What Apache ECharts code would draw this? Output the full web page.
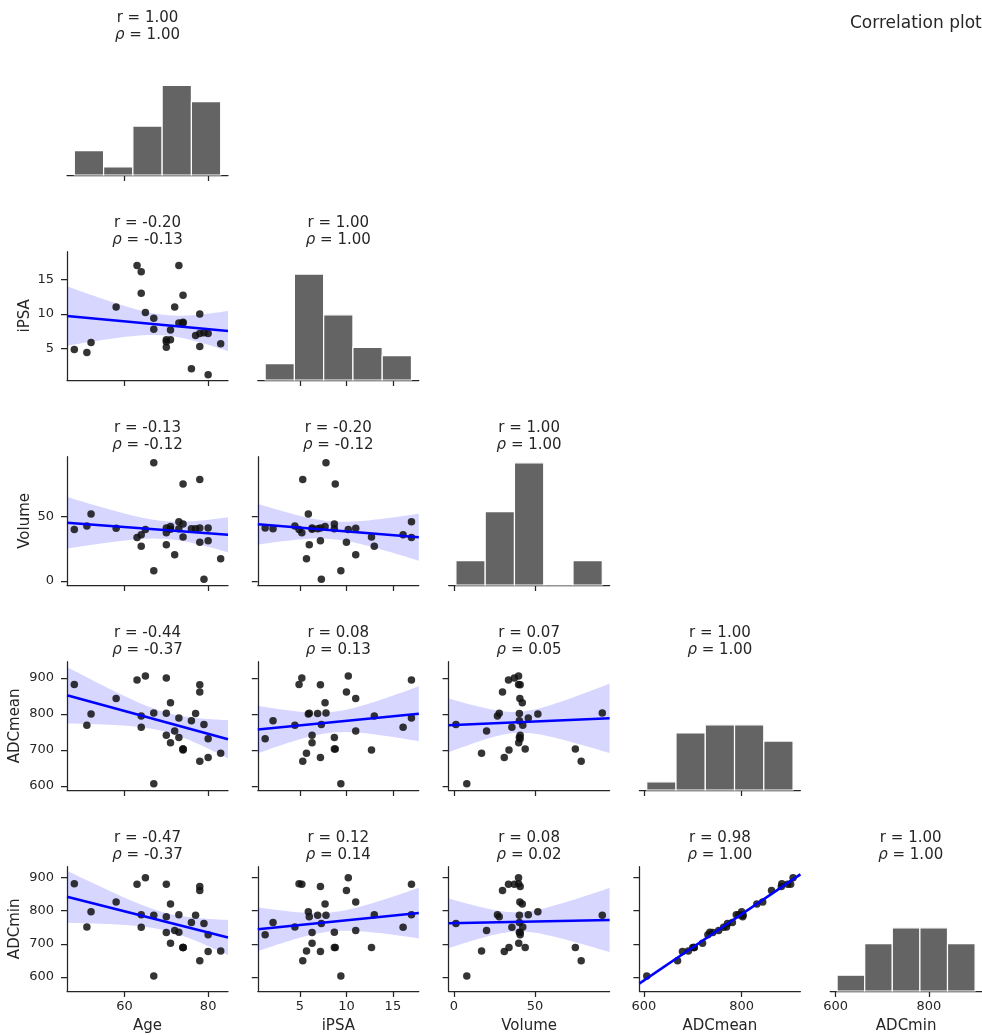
<!DOCTYPE html>
<html>
<head>
<meta charset="utf-8">
<script src="https://cdn.jsdelivr.net/npm/echarts@6/dist/echarts.min.js"></script>
<style>
html, body { margin: 0; padding: 0; background: #fff; }
#chart { width: 982px; height: 1035px; }
</style>
</head>
<body>
<div id="chart"></div>
<script>
// one entry per patient, same order in every list
var age = [48, 51, 52, 58, 63, 64, 64, 65, 67, 67, 70, 70, 70, 71, 71, 72, 73, 73, 74, 74, 74, 76, 77, 78, 78, 78, 79, 80, 80, 83];
var ipsa = [4.9, 4.45, 5.9, 11.0, 17.0, 13.0, 16.1, 10.2, 7.8, 9.4, 5.2, 6.0, 6.3, 7.7, 6.3, 11.0, 17.0, 8.7, 8.8, 12.7, 8.7, 2.1, 6.9, 7.2, 10.0, 5.3, 7.3, 1.25, 7.2, 5.7];
var volume = [39.9, 42.5, 51.8, 40.7, 33.7, 26.9, 35.8, 39.9, 91.5, 8.0, 37.3, 28.0, 40.9, 42.2, 40.0, 20.2, 45.9, 40.4, 74.9, 34.0, 44.0, 40.4, 40.4, 40.9, 30.0, 78.5, 1.3, 40.9, 31.1, 17.1];
var adcMean = [882, 769, 800, 843, 894, 794, 763, 905, 803, 606, 900, 802, 741, 831, 720, 753, 789, 735, 703, 700, 703, 781, 801, 881, 861, 669, 771, 731, 679, 691];
var adcMin = [881, 751, 797, 826, 880, 788, 750, 899, 786, 603, 880, 782, 734, 820, 702, 740, 788, 735, 689, 689, 689, 764, 786, 873, 861, 649, 761, 727, 677, 678];

var varNames = ["Age", "iPSA", "Volume", "ADCmean", "ADCmin"];
var xTicks = [[60, 80], [5, 10, 15], [0, 50], [600, 800], [600, 800]];
var yTicks = [[], [5, 10, 15], [0, 50], [600, 700, 800, 900], [600, 700, 800, 900]];
// printed r and rho, row by row (lower triangle)
var rText = [["1.00"], ["-0.20", "1.00"], ["-0.13", "-0.20", "1.00"], ["-0.44", "0.08", "0.07", "1.00"], ["-0.47", "0.12", "0.08", "0.98", "1.00"]];
var rhoText = [["1.00"], ["-0.13", "1.00"], ["-0.12", "-0.12", "1.00"], ["-0.37", "0.13", "0.05", "1.00"], ["-0.37", "0.14", "0.02", "1.00", "1.00"]];

var cols = [age, ipsa, volume, adcMean, adcMin];
// axis limits as seen in the picture
var xMin = [46.25, 0.46, -3.21, 591, 588.2];
var xMax = [84.75, 17.79, 96.01, 920, 913.8];
var yMin = [0, 0.49, -3.1, 589, 557.7];
var yMax = [15.75, 18.98, 96.1, 945, 932.6];

var ink = "#262626", font = "DejaVu Sans";
var cellW = 161, cellH = 128.3;
function cellLeft(j) { return 67 + 190.8 * j; }
function cellTop(i) { return 46.7 + 205 * i; }

function mean(a) { var s = 0; for (var k = 0; k < a.length; k++) s += a[k]; return s / a.length; }

function fitLine(xs, ys) {
    var n = xs.length, mx = mean(xs), my = mean(ys), sxx = 0, sxy = 0, sse = 0;
    for (var k = 0; k < n; k++) { sxx += (xs[k] - mx) * (xs[k] - mx); sxy += (xs[k] - mx) * (ys[k] - my); }
    var b = sxy / sxx, a = my - b * mx;
    for (var k = 0; k < n; k++) { var e = ys[k] - a - b * xs[k]; sse += e * e; }
    var s = Math.sqrt(sse / (n - 2));
    return {
        at: function (x) { return a + b * x; },
        half: function (x) { return 2.048 * s * Math.sqrt(1 / n + (x - mx) * (x - mx) / sxx); }
    };
}

function histBins(v) {
    var lo = Math.min.apply(null, v), hi = Math.max.apply(null, v), w = (hi - lo) / 5, counts = [0, 0, 0, 0, 0];
    v.forEach(function (d) { var k = Math.floor((d - lo) / w); if (k > 4) k = 4; counts[k]++; });
    return counts.map(function (c, k) { return [lo + k * w, lo + (k + 1) * w, c]; });
}

var grids = [], xAxes = [], yAxes = [], series = [], graphics = [];
var g = 0;
for (var i = 0; i < 5; i++) {
    for (var j = 0; j <= i; j++) {
        grids.push({left: cellLeft(j), top: cellTop(i), width: cellW, height: cellH});
        var diag = i == j;
        xAxes.push({
            gridIndex: g, type: "value", min: xMin[j], max: xMax[j],
            axisLine: {show: true, onZero: false, lineStyle: {color: ink, width: 1.25}},
            axisTick: {show: true, length: 6, customValues: xTicks[j], lineStyle: {color: ink, width: 1.25}},
            axisLabel: {show: i == 4, customValues: xTicks[j], color: ink, fontSize: 13, fontFamily: font, margin: 9},
            splitLine: {show: false},
            name: i == 4 ? varNames[j] : "", nameLocation: "middle", nameGap: 28,
            nameTextStyle: {color: ink, fontSize: 15, fontFamily: font}
        });
        if (diag) {
            yAxes.push({gridIndex: g, type: "value", min: yMin[0], max: yMax[0], show: false});
        } else {
            yAxes.push({
                gridIndex: g, type: "value", min: yMin[i], max: yMax[i],
                axisLine: {show: true, onZero: false, lineStyle: {color: ink, width: 1.25}},
                axisTick: {show: true, length: 6, customValues: yTicks[i], lineStyle: {color: ink, width: 1.25}},
                axisLabel: {show: j == 0, customValues: yTicks[i], color: ink, fontSize: 13, fontFamily: font, margin: 13},
                splitLine: {show: false},
                name: j == 0 ? varNames[i] : "", nameLocation: "middle", nameRotate: 90,
                nameGap: i >= 3 ? 44 : 34,
                nameTextStyle: {color: ink, fontSize: 15, fontFamily: font}
            });
        }

        if (diag) {
            series.push({
                type: "custom", xAxisIndex: g, yAxisIndex: g, silent: true,
                data: histBins(cols[j]), encode: {x: [0, 1], y: 2},
                renderItem: function (params, api) {
                    var p0 = api.coord([api.value(0), 0]), p1 = api.coord([api.value(1), api.value(2)]);
                    return {type: "rect", shape: {x: p0[0], y: p1[1], width: p1[0] - p0[0], height: p0[1] - p1[1]},
                        style: {fill: "#646464", stroke: "#ffffff", lineWidth: 1.2}};
                }
            });
        } else {
            var xs = cols[j], ys = cols[i], fit = fitLine(xs, ys);
            var band = [];
            for (var k = 0; k <= 60; k++) {
                var xv = xMin[j] + (xMax[j] - xMin[j]) * k / 60;
                band.push([xv, fit.at(xv) - fit.half(xv), fit.at(xv) + fit.half(xv)]);
            }
            series.push({
                type: "custom", xAxisIndex: g, yAxisIndex: g, silent: true, clip: true, z: 1,
                data: [[band[0][0], band[0][1]]],
                renderItem: (function (band) {
                    return function (params, api) {
                        var pts = [];
                        band.forEach(function (b) { pts.push(api.coord([b[0], b[2]])); });
                        for (var k = band.length - 1; k >= 0; k--) pts.push(api.coord([band[k][0], band[k][1]]));
                        return {type: "polygon", shape: {points: pts}, style: {fill: "rgba(0,0,255,0.16)"}};
                    };
                })(band)
            });
            series.push({
                type: "scatter", xAxisIndex: g, yAxisIndex: g, silent: true, z: 2,
                data: xs.map(function (x, k) { return [x, ys[k]]; }),
                symbolSize: 7.5, itemStyle: {color: "#111111", opacity: 0.85}
            });
            series.push({
                type: "line", xAxisIndex: g, yAxisIndex: g, silent: true, z: 3,
                data: [[xMin[j], fit.at(xMin[j])], [xMax[j], fit.at(xMax[j])]],
                showSymbol: false, lineStyle: {color: "#0000ff", width: 2.5}
            });
        }

        var cx = cellLeft(j) + cellW / 2;
        graphics.push({type: "text", x: cx, y: cellTop(i) - 29,
            style: {text: "r = " + rText[i][j], fill: ink, fontSize: 15, fontFamily: font, textAlign: "center", textVerticalAlign: "middle", align: "center", verticalAlign: "middle"}});
        graphics.push({type: "text", x: cx, y: cellTop(i) - 12,
            style: {text: "{g|ρ} = " + rhoText[i][j], fill: ink, fontSize: 15, fontFamily: font, textAlign: "center", textVerticalAlign: "middle", align: "center", verticalAlign: "middle",
                rich: {g: {fontStyle: "italic", fontSize: 15, fontFamily: font, fill: ink}}}});
        g++;
    }
}

graphics.push({type: "text", x: 850, y: 24,
    style: {text: "Correlation plot", fill: ink, fontSize: 17, fontFamily: font, textAlign: "left", textVerticalAlign: "middle", align: "left", verticalAlign: "middle"}});

var myChart = echarts.init(document.getElementById("chart"));
myChart.setOption({
    animation: false,
    backgroundColor: "#ffffff",
    grid: grids,
    xAxis: xAxes,
    yAxis: yAxes,
    series: series,
    graphic: graphics
});
</script>
</body>
</html>
